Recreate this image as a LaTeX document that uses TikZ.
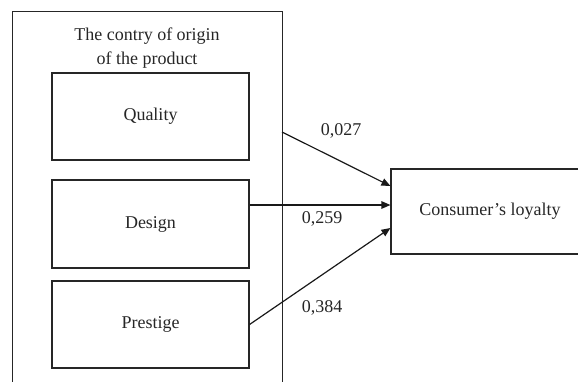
\documentclass[tikz,border=0pt]{standalone}
\usepackage{fontspec}
\setmainfont{Liberation Serif}
\usetikzlibrary{arrows.meta}
\begin{document}
\begin{tikzpicture}[x=1pt,y=-1pt,
  boxline/.style={draw=black!85, line width=1.1pt},
  itembox/.style={boxline, minimum width=197pt, minimum height=87pt, inner sep=0pt},
  txt/.style={font=\fontsize{18}{24}\selectfont, text=black!85},
  link/.style={draw=black!90, line width=1.2pt, -{Triangle[length=9pt,width=7.5pt]}}]
\useasboundingbox (0,0) rectangle (578,381);
\clip (0,0) rectangle (578,381);
\node[boxline, anchor=north west, minimum width=270pt, minimum height=400pt, inner sep=0pt] (outer) at (12,11) {};
\node[txt, align=center] (title) at (147,48) {The contry of origin\\of the product};
\node[itembox, txt] (quality) at (150.5,116.5) {Quality};
\node[itembox, txt, minimum height=88pt] (design) at (150.5,224) {Design};
\node[itembox, txt] (prestige) at (150.5,324.5) {Prestige};
\node[boxline, txt, minimum width=198pt, minimum height=85pt, inner sep=0pt] (cons) at (490,211.5) {Consumer’s loyalty};
\coordinate (s1) at (282,132);
\draw[link] (s1) -- (cons.west |- 0,186);
\draw[link] (design.east |- 0,205) -- (cons.west |- 0,205);
\draw[link] (prestige.east) -- (cons.west |- 0,228);
\node[txt] (l1) at (341,131) {0,027};
\node[txt] (l2) at (322,219) {0,259};
\node[txt] (l3) at (322,308) {0,384};
\end{tikzpicture}
\end{document}
